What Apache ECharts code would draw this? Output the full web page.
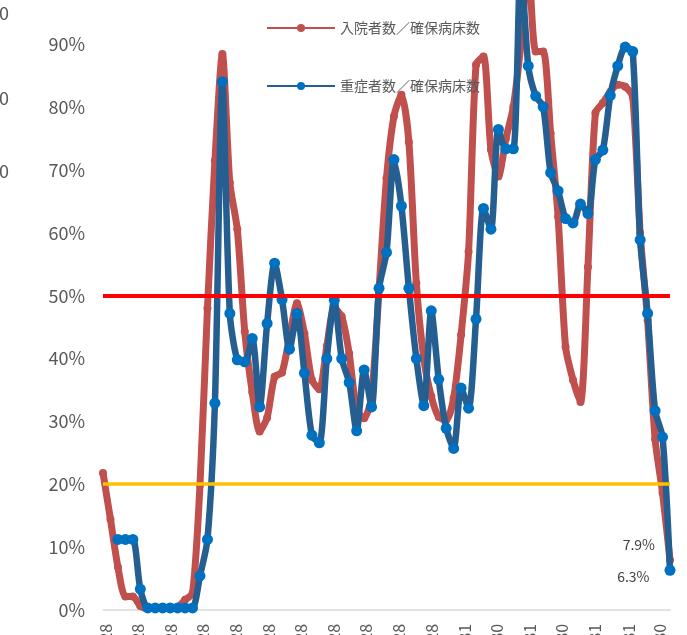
<!DOCTYPE html>
<html><head><meta charset="utf-8">
<script src="https://cdn.jsdelivr.net/npm/echarts@6/dist/echarts.min.js"></script>
<style>html,body{margin:0;padding:0;background:#fff}#c{width:687px;height:635px}</style>
</head><body><div id="c"></div>
<script>
// weekly points starting from this date
const startDate = '2020-04-25';
// x tick labels (monthly)
const labelDates = ['2020-04-28','2020-05-28','2020-06-28','2020-07-28','2020-08-28','2020-09-28','2020-10-28','2020-11-28','2020-12-28','2021-01-28','2021-02-28','2021-03-31','2021-04-30','2021-05-31','2021-06-30','2021-07-31','2021-08-31','2021-09-30'];
const seriesNames = ['入院者数／確保病床数', '重症者数／確保病床数'];
// 入院者数／確保病床数 (%)
const hospitalRate = [21.8,14.4,6.8,2.1,2.1,0.6,0.2,0.2,0.2,0.2,0.4,1.6,2.6,19.9,48.0,71.5,88.5,68.0,60.6,44.3,
  34.7,28.4,30.6,37.1,37.8,43.5,48.8,44.0,36.6,35.1,42.0,48.0,46.7,40.8,31.8,30.5,34.0,51.0,68.7,78.6,
  82.0,74.5,52.0,40.0,34.0,30.7,30.2,33.7,43.8,57.0,86.8,88.1,73.3,69.0,75.0,80.1,90.0,103.0,88.9,88.9,
  75.9,62.6,41.9,36.6,33.1,54.6,79.1,80.7,82.5,83.6,83.3,81.7,60.0,46.1,27.2,18.6,7.9];
// 重症者数／確保病床数 (%)
const severeRate = [null,null,11.2,11.2,11.2,3.3,0.3,0.3,0.3,0.3,0.3,0.3,0.3,5.4,11.2,32.9,84.1,47.2,39.8,39.5,
  43.2,32.3,45.6,55.2,49.4,41.5,47.2,37.7,27.8,26.6,40.0,49.3,40.0,36.2,28.5,38.2,32.3,51.2,56.9,71.7,
  64.3,51.2,40.0,32.5,47.6,36.7,28.9,25.7,35.3,32.1,46.3,63.9,60.6,76.5,73.4,73.4,103.0,86.6,81.8,80.1,
  69.6,66.7,62.3,61.6,64.6,63.1,71.7,73.2,81.9,86.6,89.6,88.9,58.9,47.2,31.7,27.5,6.3];
const yTicks = [0,10,20,30,40,50,60,70,80,90,100];
const refLevels = [50, 20];

const DAY = 86400000;
const t0 = new Date(startDate + 'T00:00:00Z').getTime();
function weekPos(d){ return (new Date(d + 'T00:00:00Z').getTime() - t0) / (7*DAY); }
function fmtDate(d){ const p = d.split('-'); return p[0] + '/' + (+p[1]) + '/' + (+p[2]); }
const labelPos = labelDates.map(weekPos);
const labelText = labelDates.map(fmtDate);

function toData(arr, labelOpt){
  const last = arr.length - 1;
  return arr.map((v,i) => {
    const o = {value:[i, v]};
    if (i === last) o.label = labelOpt;
    return o;
  });
}
const gray = '#595959';
const chart = echarts.init(document.getElementById('c'), null, {renderer:'canvas'});
chart.setOption({
  animation:false,
  grid:{left:103, right:17, top:-18.2, bottom:25.2, containLabel:false, outerBoundsMode:'none'},
  legend:{
    data:seriesNames, orient:'vertical', left:261, top:16, itemWidth:68, itemHeight:10, itemGap:44,
    textStyle:{fontSize:14, color:gray, fontFamily:'Noto Sans CJK JP'}
  },
  xAxis:{
    type:'value', min:0, max:hospitalRate.length-1,
    axisLine:{show:true, lineStyle:{color:'#D9D9D9', width:1.5}},
    axisTick:{show:false}, splitLine:{show:false},
    axisLabel:{
      customValues:labelPos, rotate:90, margin:14, fontSize:16, color:gray, fontFamily:'Noto Sans CJK JP',
      formatter:(v)=>{ let k=0,b=1e9; labelPos.forEach((p,j)=>{const d=Math.abs(p-v); if(d<b){b=d;k=j;}}); return labelText[k]; }
    }
  },
  yAxis:{
    type:'value', min:yTicks[0], max:yTicks[yTicks.length-1], interval:yTicks[1]-yTicks[0],
    axisLine:{show:false}, axisTick:{show:false}, splitLine:{show:false},
    axisLabel:{formatter:'{value}%', fontSize:18, color:gray, margin:18, fontFamily:'Noto Sans CJK JP'}
  },
  graphic:[
    {type:'text', left:-1, top:4, style:{text:'0', fontSize:18, fill:gray, fontFamily:'Noto Sans CJK JP'}},
    {type:'text', left:-1, top:89, style:{text:'0', fontSize:18, fill:gray, fontFamily:'Noto Sans CJK JP'}},
    {type:'text', left:-1, top:162, style:{text:'0', fontSize:18, fill:gray, fontFamily:'Noto Sans CJK JP'}}
  ],
  series:[
    {
      name:seriesNames[0], type:'line', smooth:0.25, z:2,
      data:toData(hospitalRate, {show:true, position:'left', offset:[-6,-16], formatter:(p)=>p.value[1]+'%', fontSize:14, color:'#404040', fontFamily:'Noto Sans CJK JP'}),
      symbol:'circle', symbolSize:8, showAllSymbol:true,
      lineStyle:{color:'#C0504D', width:7},
      itemStyle:{color:'#C0504D'}
    },
    {
      name:seriesNames[1], type:'line', smooth:0.25, z:3,
      data:toData(severeRate, {show:true, position:'left', offset:[-10,6], formatter:(p)=>p.value[1]+'%', fontSize:14, color:'#404040', fontFamily:'Noto Sans CJK JP'}),
      symbol:'circle', symbolSize:11, showAllSymbol:true,
      lineStyle:{color:'#255E91', width:6.5},
      itemStyle:{color:'#0070C0'}
    },
    {
      name:'ref', type:'line', z:5, data:[], silent:true,
      markLine:{
        symbol:['none','none'], silent:true, label:{show:false},
        data:[
          {yAxis:refLevels[0], lineStyle:{color:'#FF0000', width:4, type:'solid'}},
          {yAxis:refLevels[1], lineStyle:{color:'#FFC000', width:3.5, type:'solid'}}
        ]
      }
    }
  ]
});
</script>
</body></html>
